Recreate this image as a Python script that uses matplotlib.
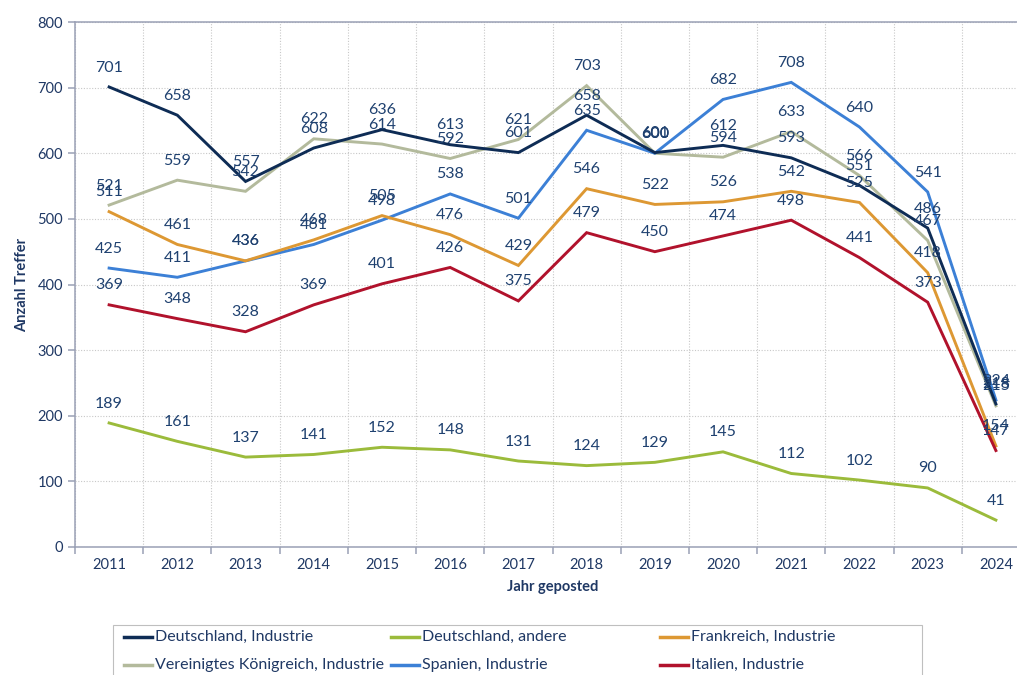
import matplotlib
matplotlib.use("Agg")
import matplotlib.pyplot as plt
from matplotlib.lines import Line2D
from matplotlib.patches import Rectangle

plt.rcParams['font.family'] = ['Lato', 'DejaVu Sans']

years = ["2011", "2012", "2013", "2014", "2015", "2016", "2017",
         "2018", "2019", "2020", "2021", "2022", "2023", "2024"]

de_industrie = [701, 658, 557, 608, 636, 613, 601, 658, 601, 612, 593, 551, 486, 218]
de_andere = [189, 161, 137, 141, 152, 148, 131, 124, 129, 145, 112, 102, 90, 41]
fr_industrie = [511, 461, 436, 468, 505, 476, 429, 546, 522, 526, 542, 525, 418, 154]
uk_industrie = [521, 559, 542, 622, 614, 592, 621, 703, 600, 594, 633, 566, 467, 215]
es_industrie = [425, 411, 436, 461, 498, 538, 501, 635, 600, 682, 708, 640, 541, 224]
it_industrie = [369, 348, 328, 369, 401, 426, 375, 479, 450, 474, 498, 441, 373, 147]

series_names = ["Deutschland, Industrie", "Deutschland, andere", "Frankreich, Industrie",
                "Vereinigtes Königreich, Industrie", "Spanien, Industrie", "Italien, Industrie"]
series_values = [de_industrie, de_andere, fr_industrie, uk_industrie, es_industrie, it_industrie]
colors = ["#0E2C55", "#9BBB3B", "#DD9833", "#B3BA9C", "#3C80D6", "#B1122C"]

label_color = "#1F4170"
text_color = "#1F3864"
axis_color = "#9AA0B5"
W, H = 1017, 675

fig = plt.figure(figsize=(W / 100, H / 100), dpi=100)
ax = fig.add_axes([75 / W, (H - 547) / H, 955 / W, 525 / H])

x = list(range(len(years)))
order = [1, 3, 4, 2, 5, 0]
for i in order:
    ax.plot(x, series_values[i], color=colors[i], lw=2.1, solid_joinstyle='miter', zorder=3)

for i in range(len(series_values)):
    for xi, v in zip(x, series_values[i]):
        ax.annotate(str(v), (xi, v), xytext=(0, 14), textcoords='offset points',
                    ha='center', va='center', fontsize=11.5, color=label_color, zorder=5)

ax.set_xlim(-0.5, len(years) - 0.5)
ax.set_ylim(0, 800)
ax.set_yticks(range(0, 801, 100))
ax.set_xticks(x)
ax.set_xticklabels(years)
ax.set_xticks([i + 0.5 for i in range(-1, len(years))], minor=True)
ax.grid(True, which='major', axis='y', color='#C8C8C8', linestyle=(0, (1, 1.5)), lw=0.8)
ax.grid(True, which='minor', axis='x', color='#C8C8C8', linestyle=(0, (1, 1.5)), lw=0.8)
ax.tick_params(axis='x', which='major', length=0, labelsize=10.5, labelcolor=text_color, pad=8)
ax.tick_params(axis='x', which='minor', length=5, colors=axis_color, width=1.1, direction='out')
ax.tick_params(axis='y', which='major', length=5, colors=axis_color, width=1.1, labelsize=10.5,
               labelcolor=text_color, direction='out')
ax.spines['right'].set_visible(False)
for s in ['left', 'bottom', 'top']:
    ax.spines[s].set_color(axis_color)
    ax.spines[s].set_linewidth(1.1)
ax.set_axisbelow(True)

ax.set_ylabel("Anzahl Treffer", fontsize=10.5, fontweight='bold', color=text_color, labelpad=6)
ax.set_xlabel("Jahr geposted", fontsize=10.5, fontweight='bold', color=text_color, labelpad=6)

# Manual legend (Excel style, equal-width columns), in pixel coordinates
def fx(px):
    return px / W

def fy(py):
    return 1 - py / H

fig.patches.append(Rectangle((fx(113), fy(700)), fx(922) - fx(113), fy(625) - fy(700),
                             transform=fig.transFigure, fill=False, edgecolor='#BFBFBF',
                             lw=0.8, zorder=1))
col_x = [124, 391, 660]
row_y = [637, 665]
for k, name in enumerate(series_names):
    r, c = divmod(k, 3)
    x0 = col_x[c]
    y0 = row_y[r]
    fig.add_artist(Line2D([fx(x0), fx(x0 + 28)], [fy(y0), fy(y0)], transform=fig.transFigure,
                          color=colors[k], lw=2.5))
    fig.text(fx(x0 + 31), fy(y0), name, ha='left', va='center', fontsize=11.5,
             color=text_color)

fig.savefig("out.png", dpi=100)
